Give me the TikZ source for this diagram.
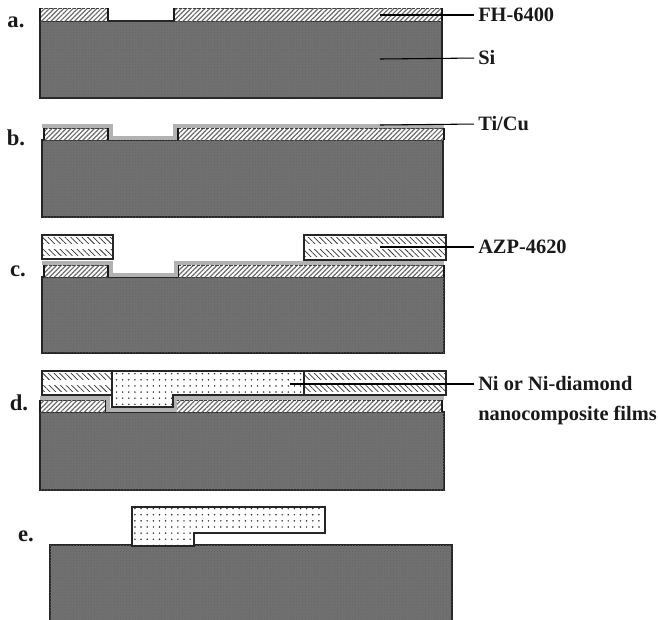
\documentclass[tikz,border=0pt]{standalone}
\usepackage{fontspec}
\setmainfont{Liberation Serif}
\usetikzlibrary{patterns.meta}
\definecolor{sidark}{gray}{0.44}
\definecolor{seed}{gray}{0.70}
\tikzset{
  x=0.75pt,y=-0.75pt,
  si/.style={fill=sidark,draw=black!85,line width=0.9pt},
  sitex/.style={pattern={Dots[distance=2.2pt,radius=0.45pt,xshift=0.3pt]},pattern color=black!60},
  fh/.style={pattern={Lines[distance=2.5pt,angle=45,line width=0.9pt]},pattern color=black!58},
  fhside/.style={draw=black!90,line width=0.8pt},
  fhedge/.style={draw=black!75,line width=0.5pt,dash pattern=on 2.5pt off 1pt},
  tilayer/.style={draw=seed,line width=3.2pt,line join=miter},
  azp/.style={fill=white,draw=black!85,line width=0.9pt},
  azpin/.style={pattern={Lines[distance=3pt,angle=-45,line width=0.55pt]},pattern color=black!80},
  nifill/.style={fill=white,draw=black!85,line width=0.9pt},
  nidots/.style={pattern={Dots[distance=4.6pt,radius=0.62pt]},pattern color=black!85},
  leader/.style={draw=black,line width=0.8pt,shorten >=3pt},
  lab/.style={font=\bfseries\fontsize{15.3}{18}\selectfont,anchor=west,inner sep=0pt,text=black!90},
  panel/.style={font=\bfseries\fontsize{17}{19}\selectfont,anchor=center,inner sep=0pt,text=black!90}
}
\newcommand{\sibox}[4]{%
  \filldraw[si] (#1,#2) rectangle (#3,#4);
  \fill[sitex] (#1,#2) rectangle (#3,#4);
}
\newcommand{\fhbox}[4]{%
  \fill[white] (#1,#2) rectangle (#3,#4);
  \fill[fh] (#1,#2) rectangle (#3,#4);
  \draw[fhedge] (#1,#2) -- (#3,#2);
  \draw[fhedge] (#1,#4) -- (#3,#4);
  \draw[fhside] (#1,#2) -- (#1,#4);
  \draw[fhside] (#3,#2) -- (#3,#4);
}
\newcommand{\azpbox}[4]{%
  \filldraw[azp] (#1,#2) rectangle (#3,#4);
  \fill[azpin] (#1+1,#2+2) rectangle (#3-1,#2+8);
  \fill[azpin] (#1+1,#2+14) rectangle (#3-1,#4-4);
  \draw[black!85,line width=0.9pt] (#1,#2) rectangle (#3,#4);
}
\begin{document}
\begin{tikzpicture}
\useasboundingbox (0,0) rectangle (658,619);

% --- panel a
\sibox{40}{21}{442}{98}
\fhbox{40}{8}{108}{21}
\fhbox{174}{8}{442}{21}
\node[panel] (pa) at (16,22) {a.};
\node[lab] (lfh) at (478,15) {FH-6400};
\node[lab] (lsi) at (478,58) {Si};
\coordinate (cfh) at (380,15);
\coordinate (csi) at (380,59);
\draw[leader] (cfh) -- (lfh.west);
\draw[leader] (csi) -- (lsi.west);

% --- panel b
\sibox{42}{140}{443}{217}
\fhbox{44}{128}{108}{140}
\fhbox{178}{128}{444}{140}
\draw[tilayer] (42,126) -- (111,126) -- (111,138) -- (175,138) -- (175,126) -- (444,126);
\node[panel] (pb) at (16,138) {b.};
\node[lab] (lti) at (478,124) {Ti/Cu};
\coordinate (cti) at (380,125);
\draw[leader] (cti) -- (lti.west);

% --- panel c
\sibox{42}{277}{444}{353}
\fhbox{44}{265}{108}{277}
\fhbox{178}{265}{444}{277}
\draw[tilayer] (42,263) -- (111,263) -- (111,275) -- (176,275) -- (176,263) -- (444,263);
\azpbox{42}{235}{113}{259}
\azpbox{304}{235}{446}{260}
\node[panel] (pc) at (18,271) {c.};
\node[lab] (laz) at (478,247) {AZP-4620};
\coordinate (caz) at (380,247);
\draw[leader] (caz) -- (laz.west);

% --- panel d
\sibox{40}{412}{444}{490}
\fhbox{40}{400}{106}{412}
\fhbox{176}{400}{442}{412}
\draw[tilayer] (40,398) -- (108,398) -- (108,410) -- (175,410) -- (175,398) -- (444,398);
\azpbox{42}{371}{112}{395}
\azpbox{304}{371}{446}{395}
\path[nifill] (112,371) -- (304,371) -- (304,395) -- (173,395) -- (173,407) -- (112,407) -- cycle;
\fill[nidots] (113,372) -- (303,372) -- (303,394) -- (172,394) -- (172,406) -- (113,406) -- cycle;
\node[panel] (pd) at (19,403) {d.};
\node[lab] (lni) at (478,384) {Ni or Ni-diamond};
\node[lab] (lnc) at (478,415) {nanocomposite films};
\coordinate (cni) at (290,384);
\draw[leader] (cni) -- (lni.west);

% --- panel e
\sibox{50}{545}{452}{630}
\path[nifill] (132,507) -- (325,507) -- (325,533) -- (194,533) -- (194,546) -- (132,546) -- cycle;
\fill[nidots] (133,508) -- (324,508) -- (324,532) -- (193,532) -- (193,545) -- (133,545) -- cycle;
\node[panel] (pe) at (26,536) {e.};
\end{tikzpicture}
\end{document}
